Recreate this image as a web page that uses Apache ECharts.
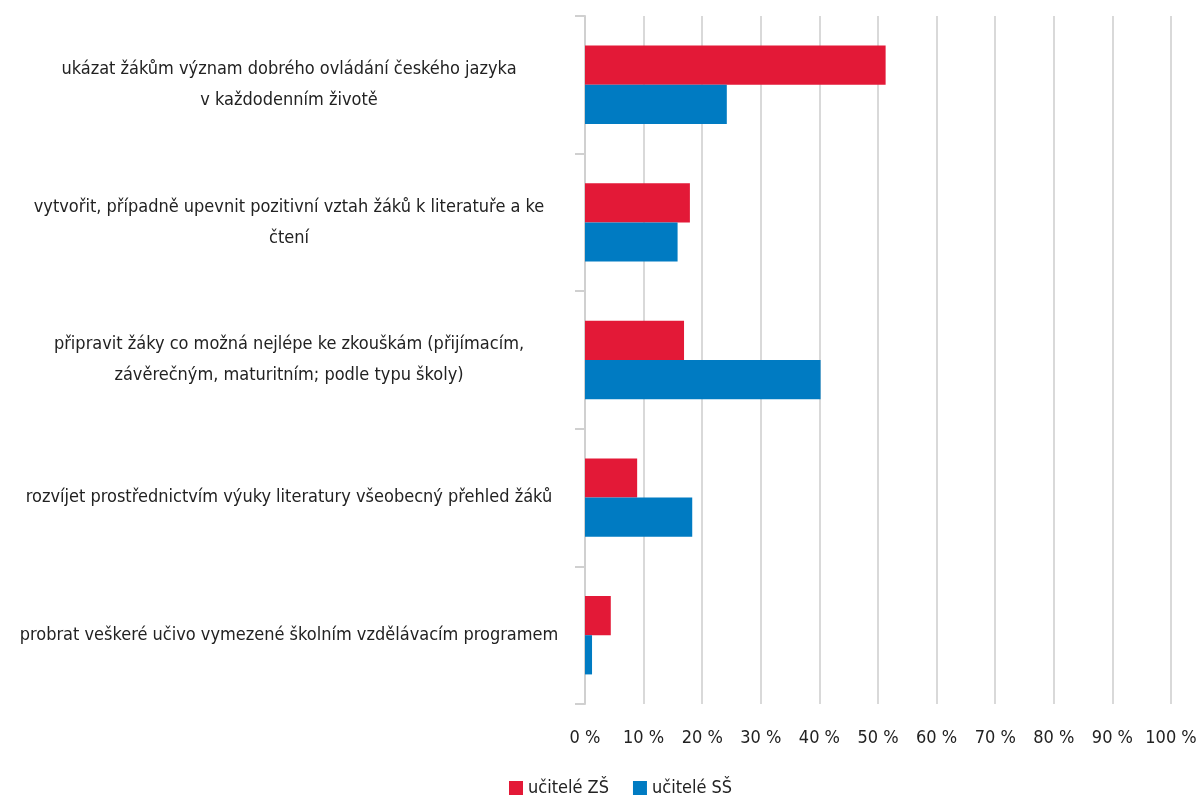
<!DOCTYPE html>
<html>
<head>
<meta charset="utf-8">
<script src="https://cdn.jsdelivr.net/npm/echarts@6/dist/echarts.min.js"></script>
<style>
    html, body { margin: 0; padding: 0; background: #fff; }
    #chart { width: 1197px; height: 803px; }
</style>
</head>
<body>
<div id="chart"></div>
<script>
    // kategorie (shora dolů)
    var categories = [
        'ukázat žákům význam dobrého ovládání českého jazyka\nv každodenním životě',
        'vytvořit, případně upevnit pozitivní vztah žáků k literatuře a ke\nčtení',
        'připravit žáky co možná nejlépe ke zkouškám (přijímacím,\nzávěrečným, maturitním; podle typu školy)',
        'rozvíjet prostřednictvím výuky literatury všeobecný přehled žáků',
        'probrat veškeré učivo vymezené školním vzdělávacím programem'
    ];
    var seriesNames = ['učitelé ZŠ', 'učitelé SŠ'];
    var valuesZS = [51.3, 17.9, 16.9, 8.9, 4.4];
    var valuesSS = [24.2, 15.8, 40.2, 18.3, 1.2];

    var font = "'Liberation Sans Narrow', 'DejaVu Sans Condensed', 'Roboto', sans-serif";

    var myChart = echarts.init(document.getElementById('chart'));
    var option = {
        animation: false,
        textStyle: {fontFamily: font},
        legend: {
            bottom: 1,
            left: 504,
            itemWidth: 14,
            itemHeight: 14,
            itemGap: 24,
            itemStyle: {borderWidth: 0},
            icon: 'rect',
            data: seriesNames,
            textStyle: {
                color: '#222',
                fontSize: 18,
                fontFamily: font
            }
        },
        grid: {
            left: 585,
            right: 26,
            top: 16,
            bottom: 99,
            containLabel: false,
            outerBoundsMode: 'none'
        },
        xAxis: {
            type: 'value',
            min: 0,
            max: 100,
            interval: 10,
            axisLine: {show: false},
            axisTick: {show: false},
            axisLabel: {
                formatter: '{value} %',
                color: '#222',
                fontSize: 18,
                fontFamily: font,
                margin: 25
            },
            splitLine: {
                lineStyle: {color: '#d9d9d9', width: 2}
            }
        },
        yAxis: {
            type: 'category',
            inverse: true,
            data: categories,
            axisLine: {lineStyle: {color: '#d0d0d0', width: 2}},
            axisTick: {show: true, length: 10, lineStyle: {color: '#d0d0d0', width: 2}},
            axisLabel: {
                margin: 36,
                color: '#222',
                fontSize: 18,
                lineHeight: 31,
                fontFamily: font,
                formatter: function (v) {
                    return v.split('\n').map(function (s) { return '{a|' + s + '}'; }).join('\n');
                },
                rich: {
                    a: {
                        width: 520,
                        align: 'center',
                        fontSize: 18,
                        lineHeight: 31,
                        color: '#222',
                        fontFamily: font
                    }
                }
            }
        },
        series: [
            {
                name: seriesNames[0],
                type: 'bar',
                data: valuesZS,
                barGap: '0%',
                barCategoryGap: '43%',
                itemStyle: {color: '#e31937'}
            },
            {
                name: seriesNames[1],
                type: 'bar',
                data: valuesSS,
                barGap: '0%',
                barCategoryGap: '43%',
                itemStyle: {color: '#007bc2'}
            }
        ]
    };
    myChart.setOption(option);
</script>
</body>
</html>
